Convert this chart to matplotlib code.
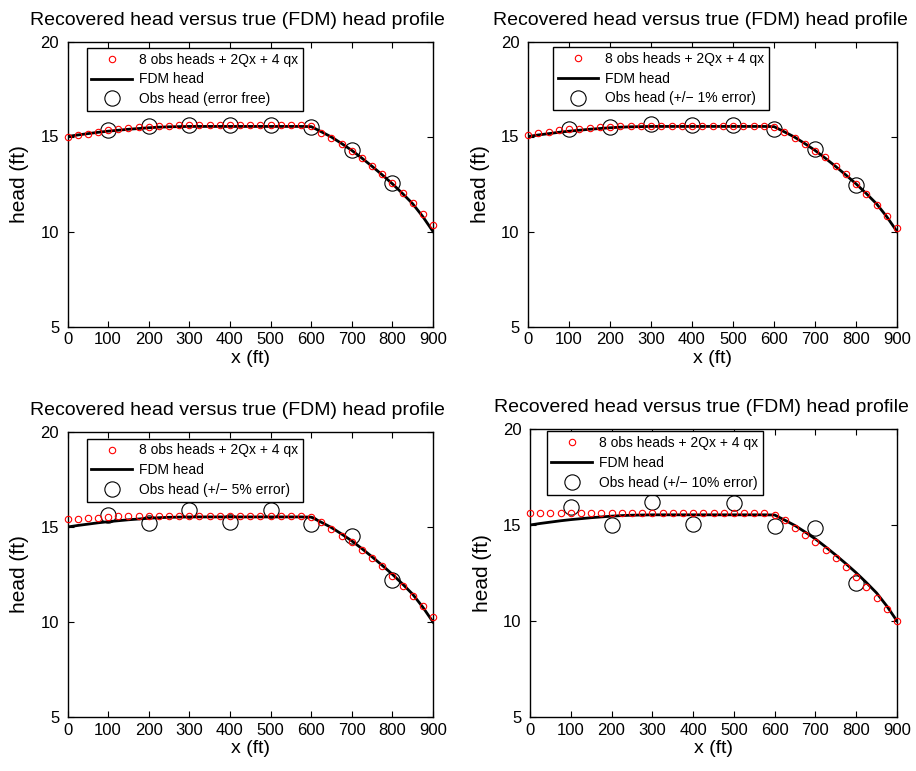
# Recovered head vs FDM head, four error levels

import numpy as np
import matplotlib.pyplot as plt

plt.rcParams['font.family'] = ['Liberation Sans', 'DejaVu Sans']

x_est = np.arange(0, 901, 25)
x_obs = [100, 200, 300, 400, 500, 600, 700, 800]

h_fdm = [15.00, 15.08, 15.15, 15.22, 15.28, 15.33, 15.38, 15.42, 15.46, 15.49,
         15.51, 15.52, 15.53, 15.53, 15.53, 15.53, 15.53, 15.53, 15.53, 15.53,
         15.53, 15.53, 15.53, 15.53, 15.52, 15.25, 14.97, 14.63, 14.27, 13.86,
         13.43, 12.98, 12.51, 12.00, 11.46, 10.78, 10.00]

# recovered heads (8 obs + 2Qx + 4 qx)
h_est_0 = [15.00, 15.06, 15.14, 15.22, 15.33, 15.39, 15.44, 15.48, 15.52, 15.55,
           15.57, 15.58, 15.59, 15.59, 15.59, 15.59, 15.59, 15.59, 15.59, 15.59,
           15.59, 15.59, 15.59, 15.59, 15.56, 15.21, 14.93, 14.61, 14.26, 13.88,
           13.47, 13.04, 12.54, 12.02, 11.49, 10.93, 10.32]
h_est_1 = [15.09, 15.19, 15.26, 15.32, 15.39, 15.42, 15.46, 15.49, 15.52, 15.56,
           15.56, 15.56, 15.56, 15.56, 15.56, 15.56, 15.56, 15.56, 15.56, 15.56,
           15.56, 15.56, 15.56, 15.56, 15.48, 15.23, 14.93, 14.61, 14.26, 13.91,
           13.47, 13.04, 12.51, 11.95, 11.40, 10.81, 10.18]
h_est_5 = [15.42, 15.44, 15.45, 15.47, 15.51, 15.56, 15.56, 15.56, 15.56, 15.56,
           15.56, 15.56, 15.56, 15.56, 15.56, 15.56, 15.56, 15.56, 15.56, 15.56,
           15.56, 15.56, 15.56, 15.56, 15.53, 15.25, 14.89, 14.51, 14.19, 13.77,
           13.37, 12.93, 12.40, 11.91, 11.39, 10.82, 10.25]
h_est_10 = [15.63, 15.63, 15.63, 15.63, 15.63, 15.63, 15.63, 15.63, 15.63, 15.63,
            15.63, 15.63, 15.63, 15.63, 15.63, 15.63, 15.63, 15.63, 15.63, 15.63,
            15.63, 15.63, 15.63, 15.63, 15.54, 15.24, 14.86, 14.50, 14.11, 13.72,
            13.28, 12.81, 12.29, 11.77, 11.22, 10.64, 10.02]

# observed heads
h_obs_0 = [15.32, 15.53, 15.63, 15.63, 15.60, 15.49, 14.30, 12.54]
h_obs_1 = [15.39, 15.49, 15.67, 15.58, 15.63, 15.39, 14.35, 12.47]
h_obs_5 = [15.65, 15.21, 15.91, 15.26, 15.88, 15.18, 14.54, 12.23]
h_obs_10 = [15.94, 14.98, 16.20, 15.03, 16.15, 14.93, 14.86, 11.98]

obs_labels = ['Obs head (error free)', 'Obs head (+/\u2212 1% error)',
              'Obs head (+/\u2212 5% error)', 'Obs head (+/\u2212 10% error)']

W, H = 916, 771
fig = plt.figure(figsize=(W / 100, H / 100), dpi=100)

# axes boxes in pixels: left, top, right, bottom
boxes = [(67.5, 41.5, 433, 326.5), (528, 41.5, 897, 326.5),
         (67.5, 432, 433, 717), (530, 429, 897, 717)]
leg_anchor = [(0.052, 0.978), (0.067, 0.981), (0.052, 0.977), (0.045, 0.992)]

ests = [h_est_0, h_est_1, h_est_5, h_est_10]
obss = [h_obs_0, h_obs_1, h_obs_5, h_obs_10]

for i in range(4):
    l, t, r, b = boxes[i]
    ax = fig.add_axes([l / W, 1 - b / H, (r - l) / W, (b - t) / H])
    ax.plot(x_est, ests[i], 'o', ls='none', mfc='none', mec='red', ms=4.6, mew=0.8,
            label='8 obs heads + 2Qx + 4 qx', clip_on=False, zorder=3)
    ax.plot(x_est, h_fdm, '-', color='black', lw=2, label='FDM head')
    ax.plot(x_obs, obss[i], 'o', ls='none', mfc='none', mec='black', ms=11, mew=0.8,
            label=obs_labels[i])

    ax.set_xlim(0, 900)
    ax.set_ylim(5, 20)
    ax.set_xticks(range(0, 901, 100))
    ax.set_yticks([5, 10, 15, 20])
    ax.tick_params(direction='in', top=True, right=True, labelsize=12, length=4)
    ax.tick_params(axis='x', pad=4)
    ax.tick_params(axis='y', pad=6)
    for s in ax.spines.values():
        s.set_linewidth(1.0)

    ax.set_title('Recovered head versus true (FDM) head profile', fontsize=14,
                 x=0.466, pad=12)
    ax.set_xlabel('x (ft)', fontsize=14, labelpad=2)
    ax.set_ylabel('head (ft)', fontsize=15, labelpad=8)

    leg = ax.legend(loc='upper left', bbox_to_anchor=leg_anchor[i], fontsize=10,
                    fancybox=False, edgecolor='black', framealpha=1,
                    handlelength=2.9, handletextpad=0.5, borderpad=0.35,
                    labelspacing=0.42, borderaxespad=0)
    leg.get_frame().set_linewidth(1.0)
    leg.set_zorder(5)

fig.savefig('out.png', dpi=100)
